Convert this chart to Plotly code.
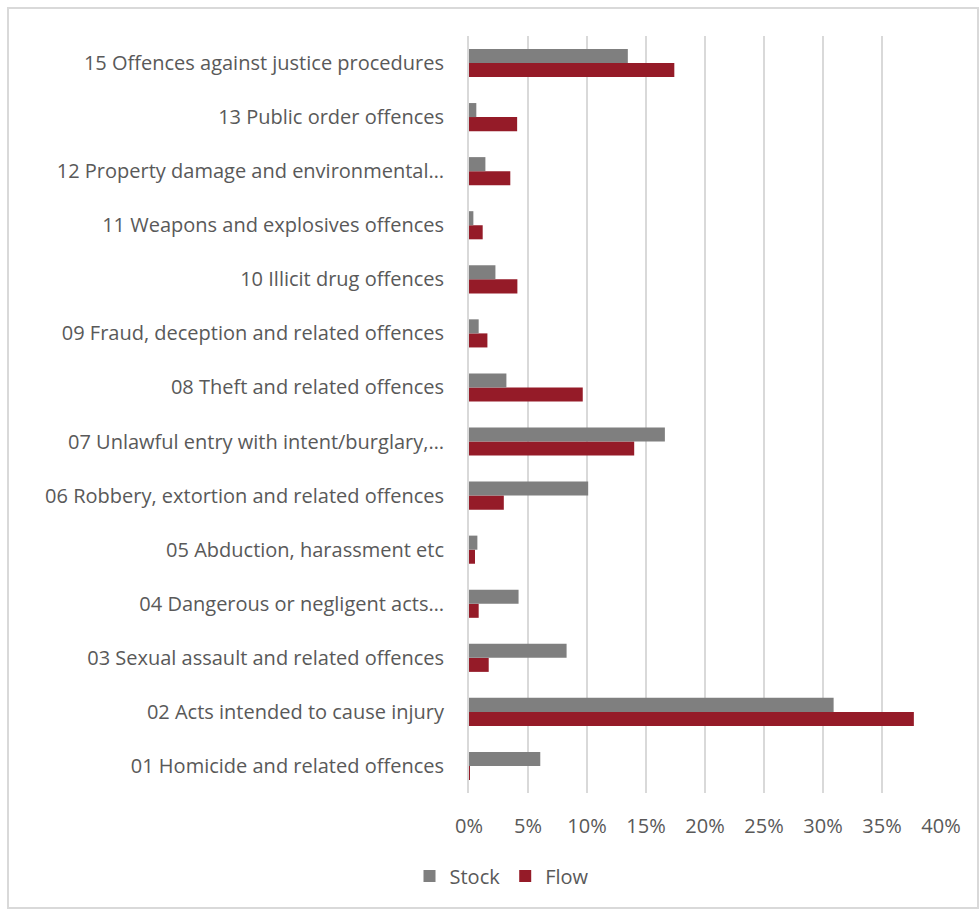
import plotly.graph_objects as go

categories = [
    "01 Homicide and related offences",
    "02 Acts intended to cause injury",
    "03 Sexual assault and related offences",
    "04 Dangerous or negligent acts…",
    "05 Abduction, harassment etc",
    "06 Robbery, extortion and related offences",
    "07 Unlawful entry with intent/burglary,…",
    "08 Theft and related offences",
    "09 Fraud, deception and related offences",
    "10 Illicit drug offences",
    "11 Weapons and explosives offences",
    "12 Property damage and environmental…",
    "13 Public order offences",
    "15 Offences against justice procedures",
]
stock = [0.0604, 0.309, 0.0827, 0.042, 0.0071, 0.101, 0.166, 0.0317, 0.0082, 0.0224, 0.0037, 0.0139, 0.0062, 0.1346]
flow = [0.0005, 0.377, 0.0167, 0.0082, 0.0051, 0.0295, 0.140, 0.0964, 0.0156, 0.041, 0.0116, 0.035, 0.0408, 0.174]
x_ticks = [0, 0.05, 0.10, 0.15, 0.20, 0.25, 0.30, 0.35, 0.40]

GRAY = "#7f7f7f"
RED = "#951b28"
TXT = "#595959"
FONT = "Open Sans"
FS = 20

fig = go.Figure()
fig.add_trace(go.Bar(y=categories, x=flow, name="Flow", orientation="h",
                     marker=dict(color=RED, line=dict(width=0)), legendrank=2))
fig.add_trace(go.Bar(y=categories, x=stock, name="Stock", orientation="h",
                     marker=dict(color=GRAY, line=dict(width=0)), legendrank=1))

W, H = 979, 911
ml, mr, mt, mb = 469, 38, 36, 118
pw, ph = W - ml - mr, H - mt - mb

fig.update_layout(
    width=W, height=H,
    margin=dict(l=ml, r=mr, t=mt, b=mb, pad=0),
    paper_bgcolor="white", plot_bgcolor="white",
    barmode="group", bargap=0.48, bargroupgap=0,
    font=dict(family=FONT, size=FS, color=TXT),
    showlegend=True,
    legend=dict(orientation="h", x=(502 - ml) / pw, xanchor="center",
                y=-(876 - (mt + ph)) / ph, yanchor="middle",
                font=dict(size=FS, color=TXT), itemwidth=30,
                traceorder="normal"),
    xaxis=dict(range=[0, 0.40], tickvals=x_ticks, tickformat=".0%",
               showgrid=True, gridcolor="#d9d9d9", gridwidth=2,
               zeroline=False, showline=False, ticks="",
               tickfont=dict(size=FS, color=TXT), ticklabelstandoff=19),
    yaxis=dict(type="category", categoryorder="array", categoryarray=categories,
               showgrid=False, zeroline=False, showline=True,
               linecolor="#d9d9d9", linewidth=2, ticks="",
               tickfont=dict(size=FS, color=TXT), ticklabelstandoff=19),
)

# outer chart border
fig.add_shape(type="rect", xref="paper", yref="paper",
              x0=(8 - ml) / pw, x1=(978 - ml) / pw,
              y0=-(908 - (mt + ph)) / ph, y1=(mt + ph - 8) / ph,
              line=dict(color="#d9d9d9", width=2), fillcolor="rgba(0,0,0,0)",
              layer="below")

fig.write_html("out.html")
